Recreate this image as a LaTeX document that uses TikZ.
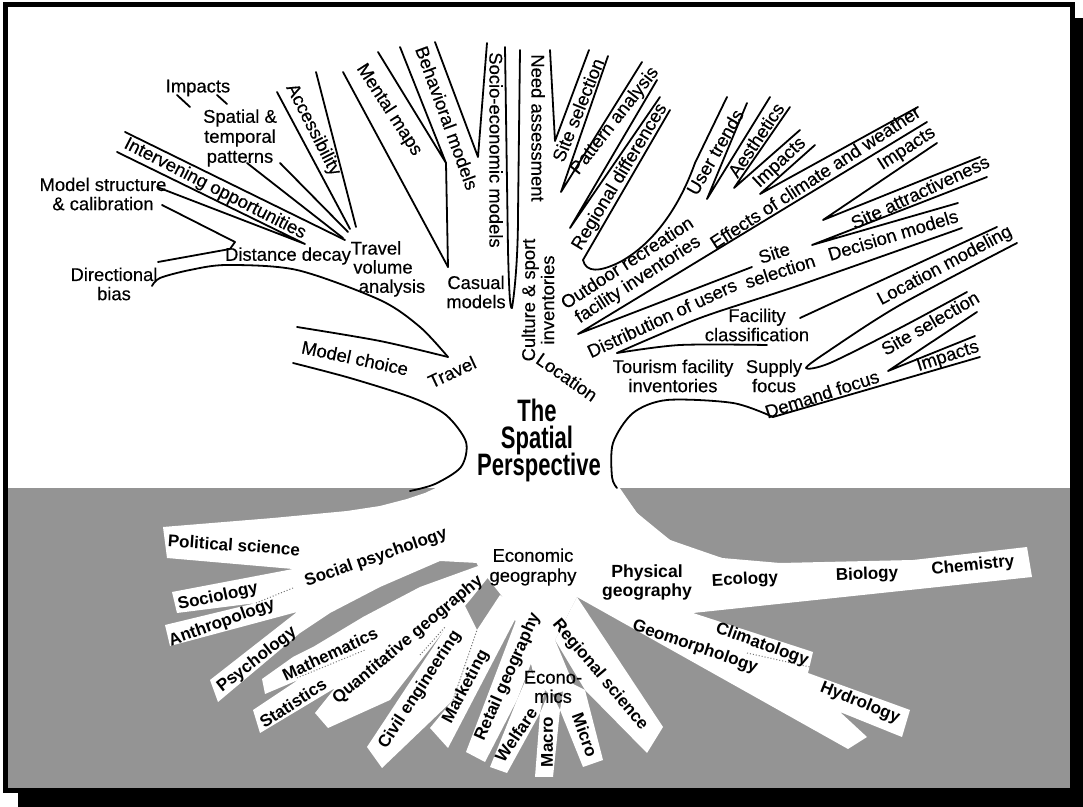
\documentclass[tikz,border=0pt]{standalone}
\usepackage{fontspec}
\setmainfont{Liberation Sans}
\newfontfamily\medfont{Liberation Sans}[FakeBold=0.35]
\usepackage{graphicx}
\definecolor{halftone}{gray}{0.58}
\newcommand\lf{\medfont\fontsize{9.2}{9.6}\selectfont}
\newcommand\rf{\bfseries\fontsize{8.5}{9.5}\selectfont}
\newcommand\titlef{\bfseries\fontsize{15.5}{16}\selectfont}
\begin{document}
\begin{tikzpicture}[x=0.5pt,y=-0.5pt,
  lbl/.style={inner sep=0pt, font=\lf, align=center},
  rlbl/.style={inner sep=0pt, font=\rf, align=center},
  br/.style={line width=0.9pt, line join=round, line cap=round},
  seam/.style={black!55, densely dotted, line width=0.5pt},
  rootband/.style={fill=white, draw=none}]

\useasboundingbox (0,0) rectangle (1083,807);
\fill[white] (0,0) rectangle (1083,807);
\fill[black] (18,18) rectangle (1083,807);
\fill[white] (5,5) rectangle (1072,791);
% grey ground
\fill[halftone] (5,488) rectangle (1072,791);

% ---------- white roots ----------
\fill[rootband] (440,486) -- (425,493) -- (407,499) -- (380,506) -- (347,511) -- (273,518) -- (163,527) -- (167,558) -- (293,569) -- (172,592) -- (177,613) -- (256,603) -- (165,625) -- (170,646) -- (297,612) -- (210,680) -- (218,702) -- (300,633) -- (330,613) -- (380,587) -- (440,561) -- (478,563) -- (500,520) -- (480,484) -- cycle;
\fill[rootband] (478,566) -- (420,587) -- (363,617) -- (313,647) -- (293,657) -- (262,679) -- (265,694) -- (298,680) -- (253,710) -- (260,733) -- (335,688) -- (315,713) -- (328,728) -- (390,700) -- (443,632) -- (470,600) -- (490,575) -- cycle;
\fill[rootband] (443,632) -- (367,747) -- (382,768) -- (453,700) -- (477,630) -- (462,600) -- cycle;
\fill[rootband] (477,630) -- (453,700) -- (430,728) -- (448,748) -- (520,610) -- (500,595) -- cycle;
\fill[rootband] (520,610) -- (466,752) -- (485,762) -- (517,700) -- (540,640) -- (535,605) -- cycle;
\fill[rootband] (517,700) -- (490,767) -- (507,773) -- (540,713) -- (545,690) -- (530,670) -- cycle;
\fill[rootband] (540,713) -- (535,777) -- (553,777) -- (560,710) -- (550,690) -- cycle;
\fill[rootband] (560,710) -- (583,767) -- (603,760) -- (585,690) -- (565,680) -- cycle;
\fill[rootband] (577,597) -- (663,727) -- (647,753) -- (585,690) -- (555,640) -- cycle;
\fill[rootband] (440,484) -- (617,484) -- (637,513) -- (670,540) -- (722,558) -- (693,613) -- (577,597) -- (555,640) -- (575,688) -- (550,695) -- (535,680) -- (525,640) -- (505,600) -- (478,566) -- cycle;
\fill[rootband] (693,613) -- (813,652) -- (808,673) -- (910,710) -- (902,737) -- (840,712) -- (867,737) -- (848,749) -- (577,597) -- (640,595) -- cycle;
\fill[rootband] (617,484) -- (627,500) -- (637,513) -- (652,527) -- (670,540) -- (695,551) -- (722,558) -- (780,563) -- (913,560) -- (1027,547) -- (1032,577) -- (693,613) -- (640,600) -- cycle;

% seams
\draw[seam] (256,603) -- (293,588);
\draw[seam] (297,678) -- (365,650);
\draw[seam] (453,700) -- (477,630);
\draw[seam] (420,655) -- (446,626);
\draw[seam] (747,653) -- (810,667);

% ---------- branch lines ----------
\draw[br] (177,95) -- (190,107);
\draw[br] (217,95) -- (227,104);
\draw[br] (247,163) -- (343,238);
\draw[br] (280,163) -- (348,232);
\draw[br] (277,92) -- (350,229);
\draw[br] (316,72) -- (356,227);
\draw[br] (125,132) -- (345,240);
\draw[br] (117,152) -- (305,244) -- (157,187);
\draw[br] (162,205) -- (235,242) -- (230,249) -- (158,262);
\draw[br] plot[smooth] coordinates {(152,286) (160,278) (190,270) (227,265) (297,270) (380,300) (420,327) (448,357)};
\draw[br] plot[smooth] coordinates {(297,327) (380,341) (448,357)};
\draw[br] plot[smooth] coordinates {(293,363) (350,378) (413,398) (446,415) (466,442) (461,467) (435,484) (410,491)};
\draw[br] (343,72) -- (448,267);
\draw[br] (378,52) -- (446,163) -- (400,47);
\draw[br] (446,163) -- (448,267);
\draw[br] (435,42) -- (478,157) -- (487,43);
\draw[br] (505,47) -- (508,250) .. controls (509,290) and (510,310) .. (512,308) .. controls (515,290) and (518,255) .. (518,215) -- (520,50);
\draw[br] (550,50) -- (555,141) -- (589,50);
\draw[br] (608,56) -- (561,192) -- (642,62);
\draw[br] (657,80) -- (570,228) -- (660,97);
\draw[br] (670,110) -- (583,260) .. controls (586,273) and (600,272) .. (620,262) .. controls (655,243) and (680,205) .. (695,163) -- (727,97);
\draw[br] (747,103) -- (707,199) -- (770,97);
\draw[br] (790,107) -- (734,188) -- (800,130);
\draw[br] (815,145) -- (760,194) -- (918,107);
\draw[br] (927,122) -- (578,334) -- (752,267);
\draw[br] (937,143) -- (823,220) -- (980,157);
\draw[br] (987,177) -- (812,245) -- (958,203);
\draw[br] plot[smooth] coordinates {(617,353) (700,318) (800,285) (962,228)};
\draw[br] plot[smooth] coordinates {(617,353) (680,345) (767,345)};
\draw[br] (997,227) -- (800,318);
\draw[br] plot[smooth] coordinates {(1017,243) (900,305) (830,350) (806,368) (830,363) (900,328) (967,292)};
\draw[br] (977,312) -- (888,371) -- (975,336);
\draw[br] (980,357) -- (773,417);
\draw[br] plot[smooth] coordinates {(773,417) (733,403) (667,400) (633,413) (613,443) (612,477) (617,488)};

% ---------- title ----------
\node[inner sep=0pt, anchor=base] (tThe) at (537,422) {\scalebox{0.71}[1]{\titlef The}};
\node[inner sep=0pt, anchor=base] (tSpatial) at (537,449) {\scalebox{0.71}[1]{\titlef Spatial}};
\node[inner sep=0pt, anchor=base] (tPersp) at (539,476) {\scalebox{0.71}[1]{\titlef Perspective}};

% ---------- upper labels ----------
\node[lbl] (impactsA) at (198,88) {Impacts};
\node[lbl, font=\medfont\fontsize{9.2}{10}\selectfont] (spatial) at (240,138) {Spatial \&\\temporal\\patterns};
\node[lbl, rotate=-63] (access) at (313,130) {Accessibility};
\node[lbl, rotate=-57] (mental) at (389,110) {Mental maps};
\node[lbl, rotate=-70] (behav) at (447,118) {Behavioral models};
\node[lbl, rotate=-90] (socio) at (496,150) {Socio-economic models};
\node[lbl, rotate=-90] (need) at (538,128) {Need assessment};
\node[lbl, rotate=68] (siteA) at (578,110) {Site selection};
\node[lbl, rotate=52] (pattern) at (615,121) {Pattern analysis};
\node[lbl, rotate=59] (regdiff) at (620,177) {Regional differences};
\node[lbl, rotate=60] (user) at (715,152) {User trends};
\node[lbl, rotate=56] (aesth) at (756,140) {Aesthetics};
\node[lbl, rotate=43] (impactsB) at (780,163) {Impacts};
\node[lbl, rotate=33] (effects) at (815,177) {Effects of climate and weather};
\node[lbl, rotate=33] (impactsC) at (907,149) {Impacts};
\node[lbl, rotate=25] (attract) at (920,192) {Site attractiveness};
\node[lbl, rotate=17] (decision) at (893,235) {Decision models};
\node[lbl, rotate=18] (siteB) at (777,262) {Site\\selection};
\node[lbl, rotate=33] (outdoor) at (633,272) {Outdoor recreation\\facility inventories};
\node[lbl, rotate=25] (distrib) at (662,318) {Distribution of users};
\node[lbl, rotate=28] (locmod) at (945,266) {Location modeling};
\node[lbl, rotate=30] (siteC) at (930,323) {Site selection};
\node[lbl, rotate=18] (impactsD) at (948,357) {Impacts};
\node[lbl, rotate=18] (demand) at (822,394) {Demand focus};
\node[lbl] (tourism) at (673,376) {Tourism facility\\inventories};
\node[lbl] (faccl) at (757,325) {Facility\\classification};
\node[lbl] (supply) at (774,376) {Supply\\focus};
\node[lbl, rotate=-35] (location) at (567,377) {Location};
\node[lbl, rotate=90] (culture) at (538,300) {Culture \& sport\\inventories};
\node[lbl] (casual) at (476,292) {Casual\\models};
\node[lbl, rotate=25] (travel) at (452,372) {Travel};
\node[lbl, rotate=-12] (modelch) at (355,358) {Model choice};
\node[lbl] (tvaA) at (376,248) {Travel};
\node[lbl] (tvaB) at (383,267) {volume};
\node[lbl] (tvaC) at (392,288) {analysis};
\node[lbl] (ddecay) at (288,256) {Distance decay};
\node[lbl, rotate=-27] (interv) at (215,189) {Intervening opportunities};
\node[lbl] (mstruct) at (103,194) {Model structure\\\& calibration};
\node[lbl] (dirbias) at (114,284) {Directional\\bias};

% ---------- root labels ----------
\node[rlbl, rotate=-4] (polsci) at (234,545) {Political science};
\node[rlbl, rotate=19] (socpsy) at (376,558) {Social psychology};
\node[rlbl, rotate=12] (sociol) at (218,597) {Sociology};
\node[rlbl, rotate=20] (anthro) at (222,623) {Anthropology};
\node[rlbl, rotate=38] (psych) at (257,660) {Psychology};
\node[rlbl, rotate=25] (math) at (330,654) {Mathematics};
\node[rlbl, rotate=33] (stats) at (293,703) {Statistics};
\node[rlbl, rotate=40] (quant) at (408,640) {Quantitative geography};
\node[rlbl, rotate=57] (civil) at (420,690) {Civil engineering};
\node[rlbl, rotate=62] (market) at (466,687) {Marketing};
\node[rlbl, rotate=66] (retail) at (508,677) {Retail geography};
\node[rlbl, rotate=56] (welfare) at (516,735) {Welfare};
\node[rlbl, rotate=90] (macro) at (547,742) {Macro};
\node[rlbl, rotate=-70] (micro) at (585,735) {Micro};
\node[lbl] (econ) at (553,687) {Econo-\\mics};
\node[rlbl, rotate=-50] (regsci) at (600,675) {Regional science};
\node[lbl, font=\medfont\fontsize{9.2}{10}\selectfont] (ecogeo) at (533,567) {Economic\\geography};
\node[rlbl, font=\bfseries\fontsize{8.8}{9.5}\selectfont] (physgeo) at (647,582) {Physical\\geography};
\node[rlbl, rotate=3] (ecology) at (745,580) {Ecology};
\node[rlbl, rotate=2] (biology) at (867,575) {Biology};
\node[rlbl, rotate=6] (chem) at (973,566) {Chemistry};
\node[rlbl, rotate=-19] (geomorph) at (695,647) {Geomorphology};
\node[rlbl, rotate=-20] (climat) at (762,645) {Climatology};
\node[rlbl, rotate=-22] (hydro) at (860,703) {Hydrology};

% frame
\draw[line width=2.5pt] (5,5) rectangle (1072,791);
\end{tikzpicture}
\end{document}
